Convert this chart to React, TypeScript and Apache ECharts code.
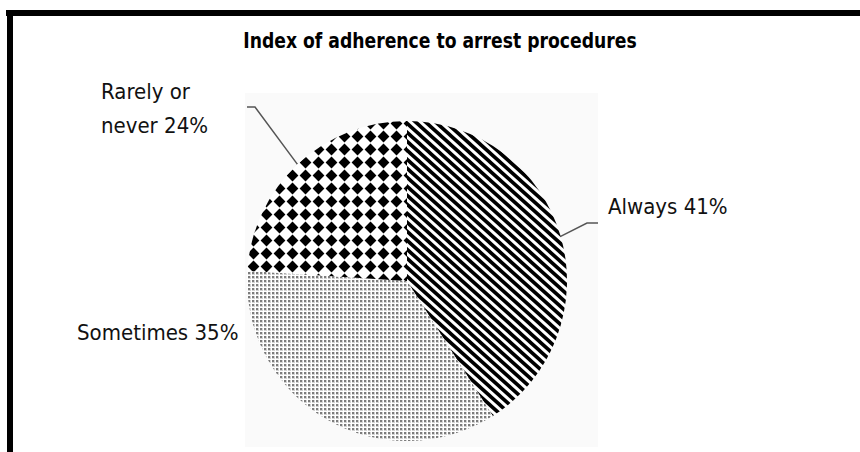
import React, { useEffect, useRef } from "react";
import * as echarts from "echarts";

// Survey shares (percent of cases)
const categories = ["Always", "Sometimes", "Rarely or never"];
const shares = [41, 35, 24];
// Label wording, with the line break used in the printed label
const labelNames = ["Always", "Sometimes", "Rarely or\nnever"];
const titleText = "Index of adherence to arrest procedures";

const FONT = "'DejaVu Sans Condensed', 'Liberation Sans Narrow', 'Liberation Sans', sans-serif";

type Draw = (ctx: CanvasRenderingContext2D) => void;

function makeTile(w: number, h: number, draw: Draw): HTMLCanvasElement {
  const c = document.createElement("canvas");
  c.width = w;
  c.height = h;
  const ctx = c.getContext("2d")!;
  ctx.fillStyle = "#ffffff";
  ctx.fillRect(0, 0, w, h);
  draw(ctx);
  return c;
}

function buildPatterns() {
  // diagonal hatching
  const stripes = makeTile(10, 9, (ctx) => {
    ctx.strokeStyle = "#000";
    ctx.lineWidth = 3.6;
    for (let k = -3; k <= 3; k++) {
      ctx.beginPath();
      ctx.moveTo(-10, -9 + k * 9);
      ctx.lineTo(20, 18 + k * 9);
      ctx.stroke();
    }
  });
  // fine grey stipple
  const dots = makeTile(4, 4, (ctx) => {
    ctx.fillStyle = "#d2d2d2";
    ctx.fillRect(0, 0, 3, 3);
    ctx.fillStyle = "#7c7c7c";
    ctx.fillRect(0, 0, 2, 2);
  });
  // black diamond grid
  const diamonds = makeTile(13, 13, (ctx) => {
    ctx.fillStyle = "#000";
    ctx.beginPath();
    ctx.moveTo(6.5, 0.6);
    ctx.lineTo(12.4, 6.5);
    ctx.lineTo(6.5, 12.4);
    ctx.lineTo(0.6, 6.5);
    ctx.closePath();
    ctx.fill();
  });
  return [stripes, dots, diamonds];
}

// label anchors and elbow points of the leader lines
const labelAnchors = [
  { x: 608, y: 206, line: [[587, 223], [598, 223]] },
  { x: 77, y: 332, line: null },
  { x: 101, y: 108, line: [[255, 107], [247, 107]] },
];

const CENTER = [407, 281];
const RADIUS = 160;

export default function App() {
  const ref = useRef<HTMLDivElement>(null);

  useEffect(() => {
    if (!ref.current) return;
    const chart = echarts.init(ref.current, undefined, { renderer: "svg" });
    const patterns = buildPatterns();

    const total = shares.reduce((a, b) => a + b, 0);
    let acc = 0;
    const midAngles = shares.map((v) => {
      const mid = (acc + v / 2) / total;
      acc += v;
      return mid * Math.PI * 2;
    });

    const data = categories.map((name, i) => ({
      name,
      value: shares[i],
      itemStyle: {
        color: { image: patterns[i], repeat: "repeat" } as any,
      },
      labelLine: { show: labelAnchors[i].line !== null },
    }));

    chart.setOption({
      animation: false,
      backgroundColor: "#ffffff",
      graphic: [
        {
          type: "rect",
          z: -10,
          shape: { x: 245, y: 93, width: 353, height: 354 },
          style: { fill: "#fafafa" },
        },
        {
          type: "rect",
          shape: { x: 6, y: 10, width: 854, height: 6 },
          style: { fill: "#000" },
        },
        {
          type: "rect",
          shape: { x: 7, y: 10, width: 6, height: 442 },
          style: { fill: "#000" },
        },
        {
          type: "text",
          x: 440,
          y: 30,
          scaleX: 0.87,
          style: {
            text: titleText,
            fontFamily: FONT,
            fontWeight: "bold",
            fontSize: 22,
            fill: "#000",
            align: "center",
            verticalAlign: "top",
          },
        },
      ],
      series: [
        {
          type: "pie",
          center: CENTER,
          radius: RADIUS,
          startAngle: 90,
          clockwise: true,
          silent: true,
          emphasis: { disabled: true },
          itemStyle: { borderWidth: 0 },
          data,
          label: {
            show: true,
            position: "outside",
            formatter: (p: any) => `${labelNames[p.dataIndex]} ${p.value}%`,
            fontFamily: FONT,
            fontSize: 22,
            lineHeight: 34,
            color: "#111",
          },
          labelLine: {
            show: true,
            length: 20,
            length2: 10,
            lineStyle: { color: "#555", width: 1.5 },
          },
          labelLayout: (params: any) => {
            const i = params.dataIndex;
            const a = labelAnchors[i];
            const ang = midAngles[i];
            const edge = [
              CENTER[0] + RADIUS * Math.sin(ang),
              CENTER[1] - RADIUS * Math.cos(ang),
            ];
            const out: any = {
              x: a.x,
              y: a.y,
              align: "left",
              verticalAlign: "middle",
            };
            if (a.line) out.labelLinePoints = [edge, a.line[0], a.line[1]];
            return out;
          },
        },
      ],
    });

    return () => chart.dispose();
  }, []);

  return (
    <div
      ref={ref}
      style={{ position: "absolute", left: 0, top: 0, width: 860, height: 452 }}
    />
  );
}
